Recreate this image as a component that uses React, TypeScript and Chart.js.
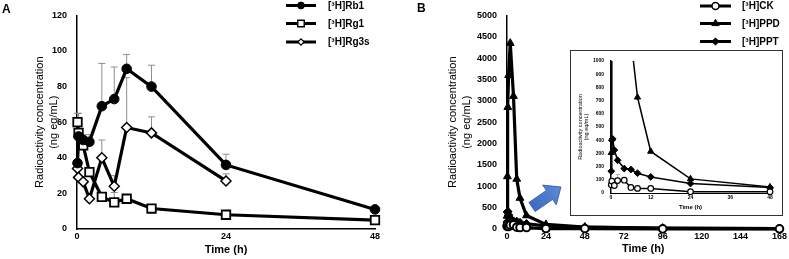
import React, { useEffect, useRef } from "react";
import { Chart, registerables } from "chart.js";
Chart.register(...registerables);

const FONT = "'Liberation Sans', Arial, Helvetica, sans-serif";
Chart.defaults.font.family = FONT;
Chart.defaults.color = "#000";

// ---------- Panel A data ----------
const seriesNamesA = ["[³H]Rb1", "[³H]Rg1", "[³H]Rg3s"];
const timeRb1 = [0.083, 0.25, 1, 2, 4, 6, 8, 12, 24, 48];
const rb1 = [37, 52, 50, 49, 69, 73, 90, 80, 36, 11];
const rb1Err = [null, 65, null, 53, 93, 91, 98, 92, 42, null];
const timeRg1 = [0.083, 0.25, 1, 2, 4, 6, 8, 12, 24, 48];
const rg1 = [60, 54, 47, 32, 18, 15, 17, 11.5, 8, 5];
const rg1Err = [65, null, 53, null, null, 20.5, null, null, null, null];
const timeRg3s = [0.083, 0.25, 1, 2, 4, 6, 8, 12, 24];
const rg3s = [34, 29, 26.5, 17, 40, 24, 57, 54, 27];
const rg3sErr = [null, null, null, null, 50, 30, 85, 63, 31];
const xTicksA = [0, 24, 48];
const yTicksA = [0, 20, 40, 60, 80, 100, 120];

// ---------- Panel B data ----------
const seriesNamesB = ["[³H]CK", "[³H]PPD", "[³H]PPT"];
const timeCK = [0.083, 0.25, 1, 2, 4, 6, 8, 12, 24, 48, 96, 168];
const ck = [62, 90, 57, 94, 97, 42, 35, 35, 10, 10, 4, 3];
const ckErr = [null, null, null, 140, null, null, null, null, null, null, null, null];
const timePPD = [0.083, 0.25, 0.5, 1, 2, 4, 6, 8, 12, 24, 48, 96, 168];
const ppd = [305, 1230, 2850, 3600, 4350, 3110, 1170, 725, 315, 107, 45, 20, 12];
const timePPT = [0.083, 0.25, 0.5, 1, 2, 4, 6, 8, 12, 24, 48, 96, 168];
const ppt = [165, 400, 410, 325, 248, 185, 178, 150, 122, 72, 42, 15, 8];
const xTicksB = [0, 24, 48, 72, 96, 120, 144, 168];
const yTicksB = [0, 500, 1000, 1500, 2000, 2500, 3000, 3500, 4000, 4500, 5000];
const xTicksInset = [0, 12, 24, 36, 48];
const yTicksInset = [0, 100, 200, 300, 400, 500, 600, 700, 800, 900, 1000];

const yTitle = ["Radioactivity concentration", "(ng eq/mL)"];

type Marker = { style: string; r: number; fill: string; stroke: string; lw: number };

function drawMarker(ctx: CanvasRenderingContext2D, m: Marker, x: number, y: number) {
  ctx.save();
  ctx.beginPath();
  const r = m.r;
  if (m.style === "circle") ctx.arc(x, y, r, 0, Math.PI * 2);
  else if (m.style === "rect") {
    const s = r * Math.SQRT1_2;
    ctx.rect(x - s, y - s, 2 * s, 2 * s);
  } else if (m.style === "rectRot") {
    ctx.moveTo(x - r, y);
    ctx.lineTo(x, y - r);
    ctx.lineTo(x + r, y);
    ctx.lineTo(x, y + r);
    ctx.closePath();
  } else if (m.style === "triangle") {
    for (let k = 0; k < 3; k++) {
      const a = (k * 2 * Math.PI) / 3;
      const px = x + Math.sin(a) * r;
      const py = y - Math.cos(a) * r;
      if (k === 0) ctx.moveTo(px, py);
      else ctx.lineTo(px, py);
    }
    ctx.closePath();
  }
  ctx.fillStyle = m.fill;
  ctx.fill();
  ctx.lineWidth = m.lw;
  ctx.strokeStyle = m.stroke;
  ctx.stroke();
  ctx.restore();
}

const errorBarPlugin = {
  id: "errorBars",
  beforeDatasetsDraw(chart: any, _a: any, opts: any) {
    if (!opts || !opts.display) return;
    const ctx = chart.ctx;
    const xs = chart.scales.x;
    const ys = chart.scales.y;
    ctx.save();
    if (opts.clip) {
      const a = chart.chartArea;
      ctx.beginPath();
      ctx.rect(a.left - 5, a.top, a.right - a.left + 10, a.bottom - a.top + 5);
      ctx.clip();
    }
    ctx.strokeStyle = opts.color;
    ctx.lineWidth = opts.width;
    chart.data.datasets.forEach((ds: any) => {
      if (!ds.errUp) return;
      ds.data.forEach((p: any, i: number) => {
        const e = ds.errUp[i];
        if (e == null) return;
        const px = xs.getPixelForValue(p.x);
        const py = ys.getPixelForValue(p.y);
        const pe = ys.getPixelForValue(e);
        ctx.beginPath();
        ctx.moveTo(px, py);
        ctx.lineTo(px, pe);
        ctx.moveTo(px - opts.cap, pe);
        ctx.lineTo(px + opts.cap, pe);
        ctx.stroke();
      });
    });
    ctx.restore();
  },
};

const lineLegendPlugin = {
  id: "lineLegend",
  afterDraw(chart: any, _a: any, opts: any) {
    if (!opts || !opts.display) return;
    const ctx = chart.ctx;
    const names: string[] = opts.names;
    names.forEach((name, i) => {
      const y = opts.rows[i];
      ctx.save();
      ctx.strokeStyle = "#000";
      ctx.lineWidth = opts.lineWidth;
      ctx.beginPath();
      ctx.moveTo(opts.x1, y);
      ctx.lineTo(opts.x2, y);
      ctx.stroke();
      drawMarker(ctx, opts.markers[i], (opts.x1 + opts.x2) / 2, y);
      ctx.fillStyle = "#000";
      ctx.font = opts.font;
      ctx.textBaseline = "middle";
      ctx.textAlign = "left";
      ctx.fillText(name, opts.textX, y + 0.5);
      ctx.restore();
    });
  },
};

const panelLabelPlugin = {
  id: "panelLabel",
  afterDraw(chart: any, _a: any, opts: any) {
    if (!opts || !opts.text) return;
    const ctx = chart.ctx;
    ctx.save();
    ctx.fillStyle = "#000";
    ctx.font = `bold 12px ${FONT}`;
    ctx.textBaseline = "alphabetic";
    ctx.textAlign = "left";
    ctx.fillText(opts.text, opts.x, opts.y);
    ctx.restore();
  },
};

const arrowPlugin = {
  id: "arrow",
  afterDraw(chart: any, _a: any, o: any) {
    if (!o || !o.display) return;
    const ctx = chart.ctx;
    const [tx, ty] = o.tail;
    const [hx, hy] = o.tip;
    const dx = hx - tx;
    const dy = hy - ty;
    const L = Math.hypot(dx, dy);
    const ux = dx / L;
    const uy = dy / L;
    const nx = -uy;
    const ny = ux;
    const bx = hx - ux * o.headLen;
    const by = hy - uy * o.headLen;
    const s = o.shaftHalf;
    const h = o.headHalf;
    ctx.save();
    ctx.beginPath();
    ctx.moveTo(tx + nx * s, ty + ny * s);
    ctx.lineTo(bx + nx * s, by + ny * s);
    ctx.lineTo(bx + nx * h, by + ny * h);
    ctx.lineTo(hx, hy);
    ctx.lineTo(bx - nx * h, by - ny * h);
    ctx.lineTo(bx - nx * s, by - ny * s);
    ctx.lineTo(tx - nx * s, ty - ny * s);
    ctx.closePath();
    const g = ctx.createLinearGradient(tx, ty, hx, hy);
    g.addColorStop(0, "#3E6BC0");
    g.addColorStop(1, "#5A8AD8");
    ctx.fillStyle = g;
    ctx.fill();
    ctx.strokeStyle = "#2F5597";
    ctx.lineWidth = 0.8;
    ctx.stroke();
    ctx.restore();
  },
};

function pts(xs: number[], ys: number[]) {
  return xs.map((x, i) => ({ x, y: ys[i] }));
}

function fixedTicks(values: number[]) {
  return (axis: any) => {
    axis.ticks = values.map((v) => ({ value: v }));
  };
}

function axisCfg(o: any) {
  return {
    type: "linear",
    min: o.min,
    max: o.max,
    afterBuildTicks: fixedTicks(o.ticks),
    ticks: {
      font: { size: o.tickSize, weight: "bold" },
      color: "#000",
      padding: o.tickPad,
      autoSkip: false,
      maxRotation: 0,
      minRotation: 0,
      callback: (v: any) => String(v),
    },
    grid: { display: false, drawTicks: false },
    border: { color: "#000", width: o.borderWidth },
    title: o.title,
    afterFit: o.afterFit,
  };
}

const markersA: Marker[] = [
  { style: "circle", r: 4.8, fill: "#000", stroke: "#000", lw: 1 },
  { style: "rect", r: 6, fill: "#fff", stroke: "#000", lw: 1.8 },
  { style: "rectRot", r: 5, fill: "#fff", stroke: "#000", lw: 1.5 },
];
const legendMarkersA: Marker[] = [
  { style: "circle", r: 3.4, fill: "#000", stroke: "#000", lw: 1 },
  { style: "rect", r: 4.6, fill: "#fff", stroke: "#000", lw: 1.5 },
  { style: "rectRot", r: 3.2, fill: "#fff", stroke: "#000", lw: 1.2 },
];
const markersB: Marker[] = [
  { style: "circle", r: 3.8, fill: "#fff", stroke: "#000", lw: 2 },
  { style: "triangle", r: 4.5, fill: "#000", stroke: "#000", lw: 1 },
  { style: "rectRot", r: 4.2, fill: "#000", stroke: "#000", lw: 1 },
];
const legendMarkersB: Marker[] = [
  { style: "circle", r: 3.5, fill: "#fff", stroke: "#000", lw: 1.5 },
  { style: "triangle", r: 4.2, fill: "#000", stroke: "#000", lw: 1 },
  { style: "rectRot", r: 3.6, fill: "#000", stroke: "#000", lw: 1 },
];
const markersInset: Marker[] = [
  { style: "circle", r: 2.8, fill: "#fff", stroke: "#000", lw: 1.2 },
  { style: "triangle", r: 3.6, fill: "#000", stroke: "#000", lw: 1 },
  { style: "rectRot", r: 3.4, fill: "#000", stroke: "#000", lw: 1 },
];

function ds(label: string, data: any[], m: Marker, lineWidth: number, err: any, clip: any) {
  return {
    label,
    data,
    errUp: err,
    borderColor: "#000",
    borderWidth: lineWidth,
    backgroundColor: m.fill,
    pointStyle: m.style,
    pointRadius: m.r,
    pointBackgroundColor: m.fill,
    pointBorderColor: m.stroke,
    pointBorderWidth: m.lw,
    pointHoverRadius: m.r,
    tension: 0,
    clip,
  };
}

export default function App() {
  const aRef = useRef<HTMLCanvasElement>(null);
  const bRef = useRef<HTMLCanvasElement>(null);
  const cRef = useRef<HTMLCanvasElement>(null);

  useEffect(() => {
    document.body.style.margin = "0";
    const plugins = [errorBarPlugin, lineLegendPlugin, panelLabelPlugin, arrowPlugin];

    const chartA = new Chart(aRef.current as HTMLCanvasElement, {
      type: "line",
      data: {
        datasets: [
          ds(seriesNamesA[0], pts(timeRb1, rb1), markersA[0], 3.2, rb1Err, false),
          ds(seriesNamesA[1], pts(timeRg1, rg1), markersA[1], 3.2, rg1Err, false),
          ds(seriesNamesA[2], pts(timeRg3s, rg3s), markersA[2], 3.2, rg3sErr, false),
        ] as any,
      },
      options: {
        animation: false,
        responsive: false,
        events: [],
        layout: { padding: { left: 0, right: 20, top: 8, bottom: 0 } },
        plugins: {
          legend: { display: false },
          tooltip: { enabled: false },
          errorBars: { display: true, color: "#8f8f8f", width: 1, cap: 3.5, clip: false },
          lineLegend: {
            display: true,
            names: seriesNamesA,
            markers: legendMarkersA,
            x1: 286,
            x2: 316,
            textX: 328,
            rows: [5.5, 23.5, 42],
            lineWidth: 3,
            font: `bold 10px ${FONT}`,
          },
          panelLabel: { text: "A", x: 2, y: 13 },
          arrow: { display: false },
        } as any,
        scales: {
          x: axisCfg({
            min: 0,
            max: 48,
            ticks: xTicksA,
            tickSize: 9,
            tickPad: 2,
            borderWidth: 1.5,
            title: {
              display: true,
              text: "Time (h)",
              font: { size: 11, weight: "bold" },
              color: "#000",
              padding: { top: 0, bottom: 2 },
            },
            afterFit: (s: any) => {
              s.height = 30;
            },
          }),
          y: axisCfg({
            min: 0,
            max: 120,
            ticks: yTicksA,
            tickSize: 9,
            tickPad: 10,
            borderWidth: 1.5,
            title: {
              display: true,
              text: yTitle,
              font: { size: 11, lineHeight: 1.3 },
              color: "#000",
              padding: { top: 33, bottom: 0 },
            },
            afterFit: (s: any) => {
              s.width = 77;
            },
          }),
        } as any,
      },
      plugins,
    } as any);

    const chartB = new Chart(bRef.current as HTMLCanvasElement, {
      type: "line",
      data: {
        datasets: [
          ds(seriesNamesB[0], pts(timeCK, ck), markersB[0], 3.2, null, false),
          ds(seriesNamesB[1], pts(timePPD, ppd), markersB[1], 3.2, null, false),
          ds(seriesNamesB[2], pts(timePPT, ppt), markersB[2], 3.2, null, false),
        ] as any,
      },
      options: {
        animation: false,
        responsive: false,
        events: [],
        layout: { padding: { left: 0, right: 8, top: 6, bottom: 0 } },
        plugins: {
          legend: { display: false },
          tooltip: { enabled: false },
          errorBars: { display: false },
          lineLegend: {
            display: true,
            names: seriesNamesB,
            markers: legendMarkersB,
            x1: 305,
            x2: 336,
            textX: 347,
            rows: [6, 23.5, 41.5],
            lineWidth: 3,
            font: `bold 10px ${FONT}`,
          },
          panelLabel: { text: "B", x: 22, y: 12 },
          arrow: {
            display: true,
            tail: [137, 207],
            tip: [166, 187],
            shaftHalf: 5.5,
            headHalf: 12,
            headLen: 14,
          },
        } as any,
        scales: {
          x: axisCfg({
            min: 0,
            max: 168,
            ticks: xTicksB,
            tickSize: 9,
            tickPad: 2,
            borderWidth: 1.5,
            title: {
              display: true,
              text: "Time (h)",
              font: { size: 11, weight: "bold" },
              color: "#000",
              padding: { top: 0, bottom: 3 },
            },
            afterFit: (s: any) => {
              s.height = 30;
            },
          }),
          y: axisCfg({
            min: 0,
            max: 5000,
            ticks: yTicksB,
            tickSize: 9,
            tickPad: 10,
            borderWidth: 1.5,
            title: {
              display: true,
              text: yTitle,
              font: { size: 11, lineHeight: 1.3 },
              color: "#000",
              padding: { top: 51, bottom: 0 },
            },
            afterFit: (s: any) => {
              s.width = 112;
            },
          }),
        } as any,
      },
      plugins,
    } as any);

    const insetClip = { left: 6, right: 6, top: 0, bottom: 6 };
    const chartC = new Chart(cRef.current as HTMLCanvasElement, {
      type: "line",
      data: {
        datasets: [
          ds(seriesNamesB[0], pts(timeCK, ck), markersInset[0], 1.5, ckErr, insetClip),
          ds(seriesNamesB[1], pts(timePPD, ppd), markersInset[1], 1.5, null, insetClip),
          ds(seriesNamesB[2], pts(timePPT, ppt), markersInset[2], 1.5, null, insetClip),
        ] as any,
      },
      options: {
        animation: false,
        responsive: false,
        events: [],
        layout: { padding: { left: 0, right: 12, top: 7, bottom: 0 } },
        plugins: {
          legend: { display: false },
          tooltip: { enabled: false },
          errorBars: { display: true, color: "#9a9a9a", width: 0.8, cap: 2, clip: true },
          lineLegend: { display: false },
          panelLabel: { text: "" },
          arrow: { display: false },
        } as any,
        scales: {
          x: axisCfg({
            min: 0,
            max: 48,
            ticks: xTicksInset,
            tickSize: 5,
            tickPad: 2,
            borderWidth: 1,
            title: {
              display: true,
              text: "Time (h)",
              font: { size: 6, weight: "bold" },
              color: "#000",
              padding: { top: 0, bottom: 4 },
            },
            afterFit: (s: any) => {
              s.height = 22;
            },
          }),
          y: axisCfg({
            min: 0,
            max: 1000,
            ticks: yTicksInset,
            tickSize: 5,
            tickPad: 7,
            borderWidth: 1.5,
            title: {
              display: true,
              text: yTitle,
              font: { size: 5.5, lineHeight: 1.1 },
              color: "#000",
              padding: { top: 6.5, bottom: 0 },
            },
            afterFit: (s: any) => {
              s.width = 40;
            },
          }),
        } as any,
      },
      plugins,
    } as any);

    return () => {
      chartA.destroy();
      chartB.destroy();
      chartC.destroy();
    };
  }, []);

  return (
    <div style={{ position: "absolute", left: 0, top: 0, width: 789, height: 259, background: "#fff", overflow: "hidden" }}>
      <canvas ref={aRef} width={395} height={259} style={{ position: "absolute", left: 0, top: 0 }} />
      <canvas ref={bRef} width={394} height={259} style={{ position: "absolute", left: 395, top: 0 }} />
      <div
        style={{
          position: "absolute",
          left: 570,
          top: 50,
          width: 211,
          height: 164,
          border: "1px solid #333",
          background: "#fff",
        }}
      >
        <canvas ref={cRef} width={211} height={164} style={{ display: "block" }} />
      </div>
    </div>
  );
}
